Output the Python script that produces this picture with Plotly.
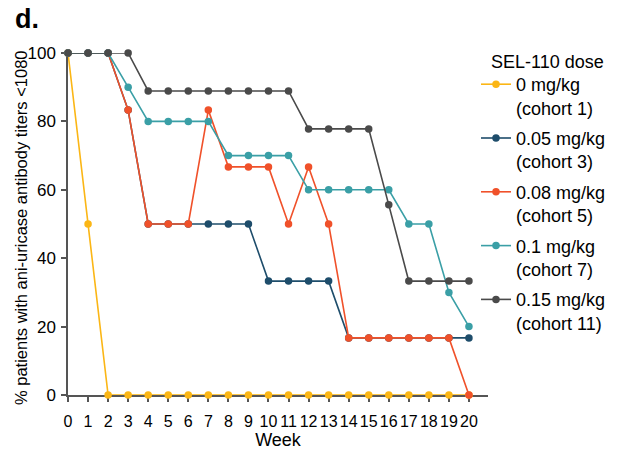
import plotly.graph_objects as go

weeks = list(range(0, 21))
cohort1 = [100, 50] + [0] * 19
cohort3 = [100, 100, 100, 83.3, 50, 50, 50, 50, 50, 50, 33.3, 33.3, 33.3, 33.3,
           16.7, 16.7, 16.7, 16.7, 16.7, 16.7, 16.7]
cohort5 = [100, 100, 100, 83.3, 50, 50, 50, 83.3, 66.7, 66.7, 66.7, 50, 66.7, 50,
           16.7, 16.7, 16.7, 16.7, 16.7, 16.7, 0]
cohort7 = [100, 100, 100, 90, 80, 80, 80, 80, 70, 70, 70, 70, 60, 60, 60, 60, 60,
           50, 50, 30, 20]
cohort11 = [100, 100, 100, 100, 88.9, 88.9, 88.9, 88.9, 88.9, 88.9, 88.9, 88.9,
            77.8, 77.8, 77.8, 77.8, 55.6, 33.3, 33.3, 33.3, 33.3]

names = ["0 mg/kg<br>(cohort 1)", "0.05 mg/kg<br>(cohort 3)", "0.08 mg/kg<br>(cohort 5)",
         "0.1 mg/kg<br>(cohort 7)", "0.15 mg/kg<br>(cohort 11)"]
series = [cohort1, cohort3, cohort5, cohort7, cohort11]
colors = ["#FBB615", "#1E4D6B", "#F0512A", "#3A9FA6", "#4A4A4A"]
xticks = [str(w) for w in weeks]
yticks = [0, 20, 40, 60, 80, 100]

fig = go.Figure()
for i in range(5):
    fig.add_trace(go.Scatter(
        x=weeks, y=series[i], name=names[i], mode="lines+markers",
        legendgroup="g%d" % i,
        line=dict(color=colors[i], width=1.6),
        marker=dict(color=colors[i], size=7.5),
        cliponaxis=False,
    ))

font = "Liberation Sans, Arial, sans-serif"
W, H = 619, 455
L, T = 68, 53
R, B = W - 488, H - 395
pw = W - L - R
ph = H - T - B


def px(xw):
    return (xw - L) / pw


def py(yw):
    return 1 - (yw - T) / ph


fig.update_layout(
    width=W, height=H,
    margin=dict(l=L, r=R, t=T, b=B, autoexpand=False),
    plot_bgcolor="white", paper_bgcolor="white",
    font=dict(family=font, size=16, color="black"),
    showlegend=True,
    legend=dict(
        font=dict(size=18),
        x=px(476), xanchor="left", y=py(66), yanchor="top",
        valign="top", traceorder="grouped", tracegroupgap=4,
        bgcolor="rgba(0,0,0,0)",
    ),
    xaxis=dict(
        range=[0, 20.95], tickmode="array", tickvals=weeks, ticktext=xticks,
        showgrid=False, zeroline=False, showline=True, linecolor="#555555", linewidth=1.5,
        ticks="outside", ticklen=5, tickcolor="#555555", tickwidth=1.5,
        ticklabelstandoff=6, layer="below traces",
        title=dict(text="Week", font=dict(size=18), standoff=4),
        tickfont=dict(size=16),
    ),
    yaxis=dict(
        range=[0, 100], tickvals=yticks,
        showgrid=False, zeroline=False, showline=True, linecolor="#555555", linewidth=1.5,
        ticks="outside", ticklen=5, tickcolor="#555555", tickwidth=1.5,
        ticklabelstandoff=2, layer="below traces",
        tickfont=dict(size=17),
    ),
    annotations=[
        dict(text="<b>d.</b>", xref="paper", yref="paper",
             x=px(13), y=py(19), xanchor="left", yanchor="middle",
             showarrow=False, font=dict(size=27, family=font)),
        dict(text="SEL-110 dose", xref="paper", yref="paper",
             x=px(489), y=py(62), xanchor="left", yanchor="middle",
             showarrow=False, font=dict(size=18, family=font)),
        dict(text="% patients with ani-uricase antibody titers <1080", xref="paper", yref="paper",
             x=px(21), y=py(228), xanchor="center", yanchor="middle", textangle=-90,
             showarrow=False, font=dict(size=16.5, family=font)),
    ],
)
fig.write_html("out.html", config={"displayModeBar": False},
               post_script="document.body.style.margin='0';")
